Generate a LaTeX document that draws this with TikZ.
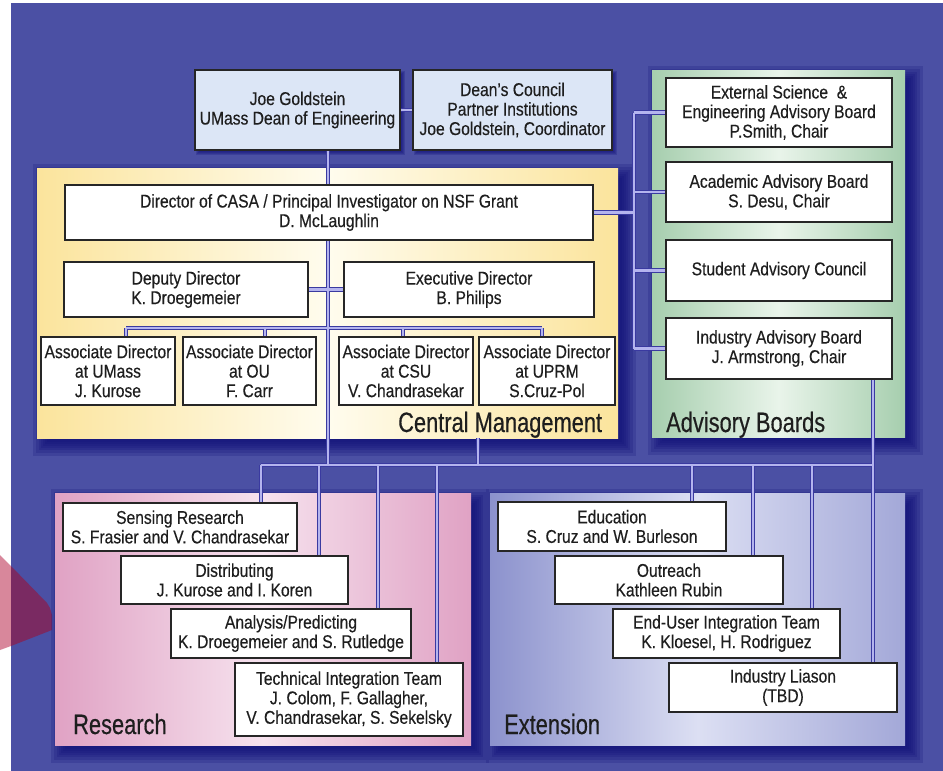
\documentclass[tikz,border=0pt]{standalone}
\usepackage{fontspec}
\setmainfont{Liberation Sans}[FakeStretch=0.845, FakeBold=0.35]
\newfontfamily\labfont{Liberation Sans}[FakeStretch=0.78, FakeBold=0.4]
\usetikzlibrary{calc}
\definecolor{bgblue}{HTML}{4B50A4}
\definecolor{shad}{HTML}{12127A}
\definecolor{cmY}{HTML}{FBE49C}
\definecolor{cmW}{HTML}{FFFCEE}
\definecolor{abG}{HTML}{A6CEAE}
\definecolor{abW}{HTML}{E9F4EA}
\definecolor{rsP}{HTML}{E0A2C4}
\definecolor{rsW}{HTML}{F6E2EE}
\definecolor{exB}{HTML}{8C92CD}
\definecolor{exB2}{HTML}{A3A8D8}
\definecolor{exW}{HTML}{DCDFF3}
\definecolor{topbox}{HTML}{DCE6F6}
\definecolor{lineout}{HTML}{3A3AA0}
\definecolor{linein}{HTML}{B4B4EE}
\definecolor{txt}{HTML}{1E1E1E}
\definecolor{boxline}{HTML}{262626}
\definecolor{pinkL}{HTML}{D8879B}
\definecolor{pinkD}{HTML}{7A2A62}
\newcommand\boxfont{\fontsize{18.5}{19.5}\selectfont}
\newcommand\panfont{\labfont\fontsize{28}{30}\selectfont}
\newcommand\softshadow[4]{%
  \foreach \r in {-5,-3,-1,1,3,5,8,11}{%
    \fill[shad, opacity=0.22] (#1+7-\r, #2+7-\r) rectangle (#3+7+\r, #4+7+\r);
  }}
\newcommand\smallshadow[4]{%
  \foreach \r in {-1,0,1,2}{%
    \fill[shad, opacity=0.25] (#1+3-\r, #2+3-\r) rectangle (#3+3+\r, #4+3+\r);
  }}
\pgfdeclarelayer{bg}
\pgfdeclarelayer{conn}
\pgfsetlayers{bg,conn,main}
\tikzset{
  box/.style={draw=boxline, line width=1.4pt, fill=white, inner sep=0pt,
    align=center, font=\boxfont, text=txt},
  topb/.style={box, fill=topbox},
  panel/.style={draw=none, inner sep=0pt},
  plabel/.style={anchor=base west, inner sep=0pt, font=\panfont, text=txt},
  connout/.style={draw=lineout, line width=4.6pt},
  connin/.style={draw=linein, line width=2.4pt},
}
\newcommand\conns[1]{%
  \draw[#1] (joe.east) -- (dean.west);
  \draw[#1] (joe.south -| mx) -- (bus -| mx);
  \draw[#1] (dep.east) -- (exe.west);
  \draw[#1] (q1) -- (q4);
  \draw[#1] (q1) -- (q1 |- a1.north);
  \draw[#1] (q2) -- (q2 |- a2.north);
  \draw[#1] (q3) -- (q3 |- a3.north);
  \draw[#1] (q4) -- (q4 |- a4.north);
  \draw[#1] (dir.east) -- (dir.east -| ax);
  \draw[#1] (ext.west -| ax) -- (ind.west -| ax);
  \draw[#1] (ext.west -| ax) -- (ext.west);
  \draw[#1] (aca.west -| ax) -- (aca.west);
  \draw[#1] (stu.west -| ax) -- (stu.west);
  \draw[#1] (ind.west -| ax) -- (ind.west);
  \draw[#1] (r1) -- (bus -| lx);
  \draw[#1] (r1) -- (r1 |- sen.north);
  \draw[#1] (r2) -- (r2 |- dis.north);
  \draw[#1] (r3) -- (r3 |- ana.north);
  \draw[#1] (r4) -- (r4 |- tec.north);
  \draw[#1] (e1) -- (e1 |- edu.north);
  \draw[#1] (e2) -- (e2 |- out.north);
  \draw[#1] (e3) -- (e3 |- end.north);
  \draw[#1] (ind.south -| lx) -- (lia.north -| lx);
  \draw[#1] (cm.south -| m2x) -- (bus -| m2x);
}
\begin{document}
\begin{tikzpicture}[x=1pt, y=-1pt]
\useasboundingbox (0,0) rectangle (943,771);
\begin{pgfonlayer}{bg}
  \fill[white] (0,0) rectangle (943,771);
  \fill[bgblue] (11,3) rectangle (943,771);
  % pink shape at left edge
  \fill[pinkL] (0,555) -- (11,566) -- (11,646) -- (0,650) -- cycle;
  \fill[pinkD] (11,566) -- (47,603) -- (50,608) -- (52,615) -- (52,630) -- (11,646) -- cycle;
  % shadows
  \softshadow{37}{168}{618}{438}
  \softshadow{652}{70}{905}{437}
  \softshadow{55}{493}{471}{745}
  \softshadow{490}{493}{905}{745}
  \smallshadow{195}{70}{400}{150}
  \smallshadow{413}{70}{612}{150}
  % panels
  \node[panel, left color=cmY, right color=cmY, middle color=cmW,
        minimum width=581pt, minimum height=270pt] (cm) at (327.5,303) {};
  \node[panel, left color=abG, right color=abG, middle color=abW,
        minimum width=253pt, minimum height=367pt] (ab) at (778.5,253.5) {};
  \node[panel, left color=rsP, right color=rsP, middle color=rsW,
        minimum width=416pt, minimum height=252pt] (rs) at (263,619) {};
  \node[panel, left color=exB, right color=exB2, middle color=exW,
        minimum width=415pt, minimum height=252pt] (ex) at (697.5,619) {};
\end{pgfonlayer}

% coordinates for connector routing
\coordinate (mx) at (328,0);
\coordinate (m2x) at (478,0);
\coordinate (ax) at (634,0);
\coordinate (lx) at (873,0);
\coordinate (bus) at (0,465);
\coordinate (q1) at (126,328);
\coordinate (q2) at (265,328);
\coordinate (q3) at (403,328);
\coordinate (q4) at (542,328);
\coordinate (r1) at (261,465);
\coordinate (r2) at (319,465);
\coordinate (r3) at (378,465);
\coordinate (r4) at (437,465);
\coordinate (e1) at (692,465);
\coordinate (e2) at (753,465);
\coordinate (e3) at (812,465);

% top boxes
\node[topb, minimum width=205pt, minimum height=80pt] (joe) at (297.5,110)
  {Joe Goldstein\\UMass Dean of Engineering};
\node[topb, minimum width=199pt, minimum height=80pt] (dean) at (512.5,110)
  {Dean's Council\\Partner Institutions\\Joe Goldstein, Coordinator};

% central management
\node[box, minimum width=528pt, minimum height=55pt] (dir) at (329,212.5)
  {Director of CASA / Principal Investigator on NSF Grant\\D. McLaughlin};
\node[box, minimum width=244pt, minimum height=55pt] (dep) at (186,289.5)
  {Deputy Director\\K. Droegemeier};
\node[box, minimum width=250pt, minimum height=55pt] (exe) at (469,289.5)
  {Executive Director\\B. Philips};
\node[box, minimum width=134pt, minimum height=68pt] (a1) at (108,371)
  {Associate Director\\at UMass\\J. Kurose};
\node[box, minimum width=133pt, minimum height=68pt] (a2) at (249.5,371)
  {Associate Director\\at OU\\F. Carr};
\node[box, minimum width=134pt, minimum height=68pt] (a3) at (406,371)
  {Associate Director\\at CSU\\V. Chandrasekar};
\node[box, minimum width=136pt, minimum height=68pt] (a4) at (547,371)
  {Associate Director\\at UPRM\\S.Cruz-Pol};
\node[plabel] (cml) at (398,432) {Central Management};

% advisory boards
\node[box, minimum width=226pt, minimum height=69pt] (ext) at (779,112.5)
  {External Science~ \&\\Engineering Advisory Board\\P.Smith, Chair};
\node[box, minimum width=226pt, minimum height=60pt] (aca) at (779,192)
  {Academic Advisory Board\\S. Desu, Chair};
\node[box, minimum width=226pt, minimum height=61pt] (stu) at (779,270.5)
  {Student Advisory Council};
\node[box, minimum width=226pt, minimum height=61pt] (ind) at (779,348.5)
  {Industry Advisory Board\\J. Armstrong, Chair};
\node[plabel] (abl) at (666,432) {Advisory Boards};

% research
\node[box, minimum width=234pt, minimum height=48pt] (sen) at (180,527)
  {Sensing Research\\S. Frasier and V. Chandrasekar};
\node[box, minimum width=227pt, minimum height=48pt] (dis) at (234.5,580)
  {Distributing\\J. Kurose and I. Koren};
\node[box, minimum width=240pt, minimum height=49pt] (ana) at (291,633.5)
  {Analysis/Predicting\\K. Droegemeier and S. Rutledge};
\node[box, minimum width=228pt, minimum height=73pt] (tec) at (349,699.5)
  {Technical Integration Team\\J. Colom, F. Gallagher,\\V. Chandrasekar, S. Sekelsky};
\node[plabel] (rsl) at (73,734) {Research};

% extension
\node[box, minimum width=228pt, minimum height=49pt] (edu) at (612,526.5)
  {Education\\S. Cruz and W. Burleson};
\node[box, minimum width=228pt, minimum height=48pt] (out) at (669,580)
  {Outreach\\Kathleen Rubin};
\node[box, minimum width=227pt, minimum height=49pt] (end) at (726.5,633.5)
  {End-User Integration Team\\K. Kloesel, H. Rodriguez};
\node[box, minimum width=228pt, minimum height=49pt] (lia) at (783,687.5)
  {Industry Liason\\(TBD)};
\node[plabel] (exl) at (504,734) {Extension};

\begin{pgfonlayer}{conn}
  \conns{connout}
  \conns{connin}
\end{pgfonlayer}
\end{tikzpicture}
\end{document}
